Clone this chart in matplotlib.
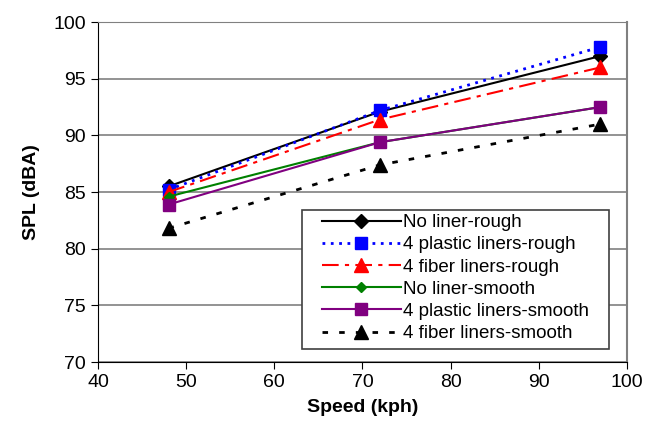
import matplotlib.pyplot as plt
from matplotlib.patches import Rectangle

plt.rcParams['font.family'] = ['Liberation Sans', 'DejaVu Sans']

# speeds tested (kph)
speed = [48, 72, 97]

# SPL readings (dBA) for each liner configuration
no_liner_rough = [85.5, 92.1, 97.0]
plastic_rough = [85.2, 92.2, 97.8]
fiber_rough = [85.0, 91.4, 96.0]
no_liner_smooth = [84.6, 89.4, 92.5]
plastic_smooth = [83.9, 89.4, 92.5]
fiber_smooth = [81.8, 87.4, 91.0]

labels = ['No liner-rough', '4 plastic liners-rough', '4 fiber liners-rough',
          'No liner-smooth', '4 plastic liners-smooth', '4 fiber liners-smooth']

fig = plt.figure(figsize=(6.62, 4.24), dpi=100)
ax = fig.add_axes([0.148, 0.146, 0.799, 0.802])

ax.plot(speed, no_liner_rough, color='black', linestyle='-', linewidth=1.5,
        marker='D', markersize=7, label=labels[0])
ax.plot(speed, plastic_rough, color='blue', linestyle=(0, (1, 2)), linewidth=2,
        marker='s', markersize=9, label=labels[1])
ax.plot(speed, fiber_rough, color='red', linestyle=(0, (8, 3, 2, 3)), linewidth=1.5,
        marker='^', markersize=10, label=labels[2])
ax.plot(speed, no_liner_smooth, color='green', linestyle='-', linewidth=1.5,
        marker='D', markersize=5, label=labels[3])
ax.plot(speed, plastic_smooth, color='purple', linestyle='-', linewidth=1.5,
        marker='s', markersize=8, label=labels[4])
ax.plot(speed, fiber_smooth, color='black', linestyle=(0, (2, 4)), linewidth=2,
        marker='^', markersize=10, label=labels[5])

ax.set_xlim(40, 100)
ax.set_ylim(70, 100)
ax.set_xticks(range(40, 101, 10))
ax.set_yticks(range(70, 101, 5))
ax.tick_params(labelsize=14, direction='out', length=5, color='black')

ax.yaxis.grid(True, color='#808080', linewidth=1.2)
ax.set_axisbelow(True)
ax.spines['top'].set_color('#808080')
ax.spines['right'].set_color('#808080')
ax.spines['right'].set_linewidth(1.5)

ax.set_xlabel('Speed (kph)', fontsize=14, fontweight='bold', labelpad=6)
ax.set_ylabel('SPL (dBA)', fontsize=14, fontweight='bold', labelpad=10)

# legend box drawn separately (Excel style: wide side padding)
ax.add_patch(Rectangle((0.386, 0.038), 0.58, 0.409, transform=ax.transAxes,
                       facecolor='white', edgecolor='#404040', linewidth=1.2,
                       zorder=4))
leg = ax.legend(loc='upper left', bbox_to_anchor=(0.4234, 0.435), borderaxespad=0,
                fontsize=13.5, frameon=False, handlelength=4.2, handletextpad=0.15,
                borderpad=0, labelspacing=0.27)
leg.set_zorder(5)

plt.savefig('out.png')
